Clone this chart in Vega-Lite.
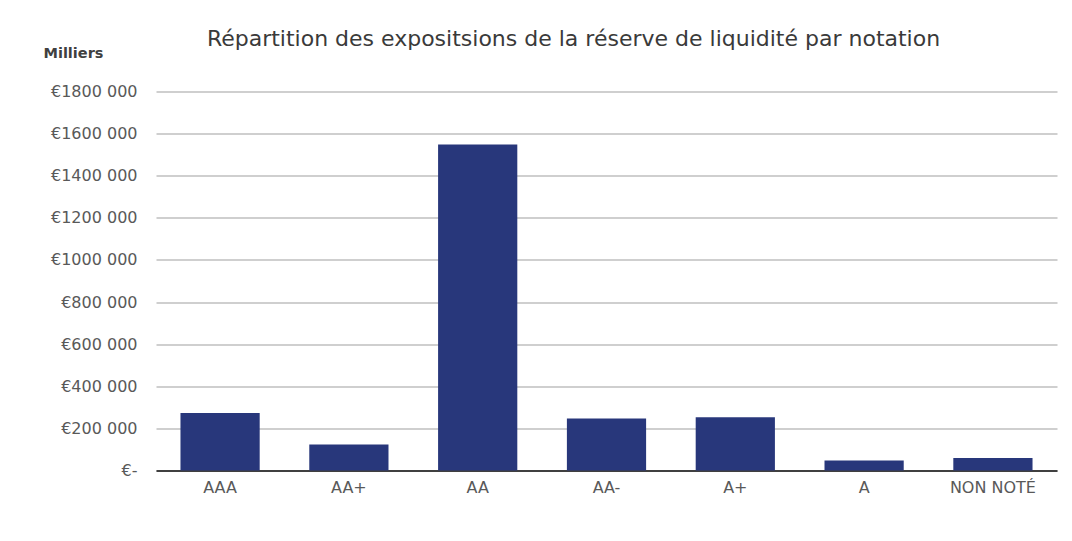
{
  "$schema": "https://vega.github.io/schema/vega-lite/v6.json",
  "autosize": "none",
  "width": 901,
  "height": 379,
  "padding": {"left": 156, "top": 91.5, "right": 15, "bottom": 70.5},
  "background": "white",
  "title": {
    "text": "Répartition des expositsions de la réserve de liquidité par notation",
    "anchor": "middle",
    "frame": "group",
    "dx": -33,
    "offset": -23,
    "baseline": "alphabetic",
    "fontSize": 22,
    "fontWeight": "normal",
    "color": "#3a3a3a",
    "font": "DejaVu Sans"
  },
  "data": {
    "values": [
      {"notation": "AAA", "montant": 273000},
      {"notation": "AA+", "montant": 124000},
      {"notation": "AA", "montant": 1548000},
      {"notation": "AA-", "montant": 247000},
      {"notation": "A+", "montant": 253000},
      {"notation": "A", "montant": 48000},
      {"notation": "NON NOTÉ", "montant": 59000}
    ]
  },
  "mark": {"type": "bar", "color": "#28377b"},
  "encoding": {
    "x": {
      "field": "notation",
      "type": "nominal",
      "sort": null,
      "scale": {"paddingInner": 0.385, "paddingOuter": 0.19},
      "axis": {
        "title": null,
        "labelAngle": 0,
        "ticks": false,
        "domainColor": "#404040",
        "domainWidth": 2,
        "labelFont": "DejaVu Sans",
        "labelFontSize": 16,
        "labelColor": "#595959",
        "labelPadding": 9
      }
    },
    "y": {
      "field": "montant",
      "type": "quantitative",
      "scale": {"domain": [0, 1800000], "nice": false},
      "axis": {
        "title": "Milliers",
        "titleAngle": 0,
        "titleAlign": "left",
        "titleBaseline": "alphabetic",
        "titleX": -113,
        "titleY": -34.5,
        "titleFont": "DejaVu Sans",
        "titleFontSize": 14.5,
        "titleFontWeight": "bold",
        "titleColor": "#404040",
        "values": [0, 200000, 400000, 600000, 800000, 1000000, 1200000, 1400000, 1600000, 1800000],
        "labelExpr": "datum.value == 0 ? '€-' : '€' + (datum.value >= 1000000 ? floor(datum.value/1000000) + '' + format((datum.value % 1000000)/1000, '03d') : format(datum.value/1000, 'd')) + ' 000'",
        "labelFont": "DejaVu Sans",
        "labelFontSize": 16,
        "labelColor": "#595959",
        "labelPadding": 19,
        "ticks": false,
        "domain": false,
        "gridColor": "#bfbfbf",
        "gridWidth": 1.5
      }
    }
  },
  "config": {"view": {"stroke": null}}
}
